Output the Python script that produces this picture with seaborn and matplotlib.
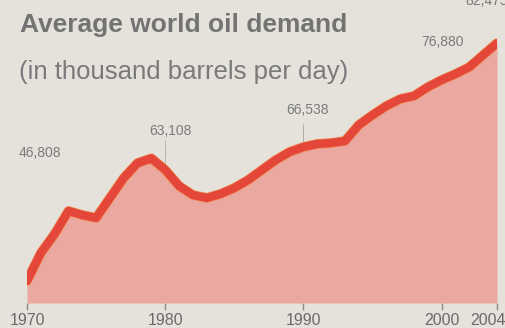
import matplotlib
matplotlib.use("Agg")
import matplotlib.pyplot as plt
import matplotlib.patheffects as pe
import matplotlib.transforms as mtransforms
import pandas as pd
import seaborn as sns

# values (thousand barrels per day)
years = list(range(1970, 2005))
demand = [46808, 50990, 53860, 57300, 56700, 56260, 59260, 62260, 64500, 65200,
          63460, 61060, 59700, 59260, 59860, 60760, 61960, 63460, 64960, 66160,
          66900, 67360, 67500, 67800, 70200, 71700, 73060, 74100, 74560, 75900,
          76960, 77860, 78900, 80700, 82475]

label_years = [1970, 1980, 1990, 2000, 2004]
label_texts = ["46,808", "63,108", "66,538", "76,880", "82,475"]
tick_years = [1970, 1980, 1990, 2000, 2004]

df = pd.DataFrame({"year": years, "demand": demand})

sns.set_theme(style="white")
plt.rcParams["font.family"] = ["Liberation Sans", "DejaVu Sans"]

bg = "#e5e2dc"
fig = plt.figure(figsize=(5.06, 3.28), dpi=100, facecolor=bg)
ax = fig.add_axes([27 / 506, 25 / 328, 470 / 506, 303 / 328])
ax.set_facecolor("none")

ax.fill_between(df["year"], df["demand"], 43500, color="#eba8a0", lw=0, zorder=1)
sns.lineplot(data=df, x="year", y="demand", ax=ax, color="#e4473a", lw=6,
             solid_capstyle="round", solid_joinstyle="round", zorder=3,
             path_effects=[pe.Stroke(linewidth=7, foreground="#ef8c52"), pe.Normal()])

ax.set_xlim(1970, 2004)
ax.set_ylim(43500, 88950)
for s in ax.spines.values():
    s.set_visible(False)
ax.set_xticks(tick_years)
ax.set_xticklabels([str(t) for t in tick_years])
ax.set_yticks([])
ax.tick_params(axis="x", bottom=True, direction="out", length=5, width=1,
               color="#8a8a8a", labelsize=11.5, labelcolor="#6a6a6a", pad=2)
ax.set_xlabel("")
ax.set_ylabel("")

# last tick label sits a little left of its tick, cut by the edge
last = ax.get_xticklabels()[-1]
last.set_transform(last.get_transform() + mtransforms.ScaledTranslation(-0.09, 0, fig.dpi_scale_trans))

# leader lines under the decade labels
ax.vlines(1980, 63460, 67900, color="#b0aca6", lw=0.6, zorder=2)
ax.vlines(1990, 66900, 70300, color="#a8a4a0", lw=0.6, zorder=2)

offsets = [(13, 128), (5, 39), (4, 37), (1, 38), (-10, 42)]
for yr, txt, (dx, dy) in zip(label_years, label_texts, offsets):
    val = demand[years.index(yr)]
    ax.annotate(txt, xy=(yr, val), xytext=(dx, dy), textcoords="offset pixels",
                ha="center", va="center", fontsize=10, color="#7a7a7a",
                annotation_clip=False)

fig.text(20 / 506, 1 - 25 / 328, "Average world oil demand", fontsize=19,
         fontweight="bold", color="#737373", ha="left", va="center")
fig.text(19 / 506, 1 - 72 / 328, "(in thousand barrels per day)", fontsize=18.5,
         color="#7a7a7a", ha="left", va="center")

fig.savefig("out.png", dpi=100, facecolor=bg)
